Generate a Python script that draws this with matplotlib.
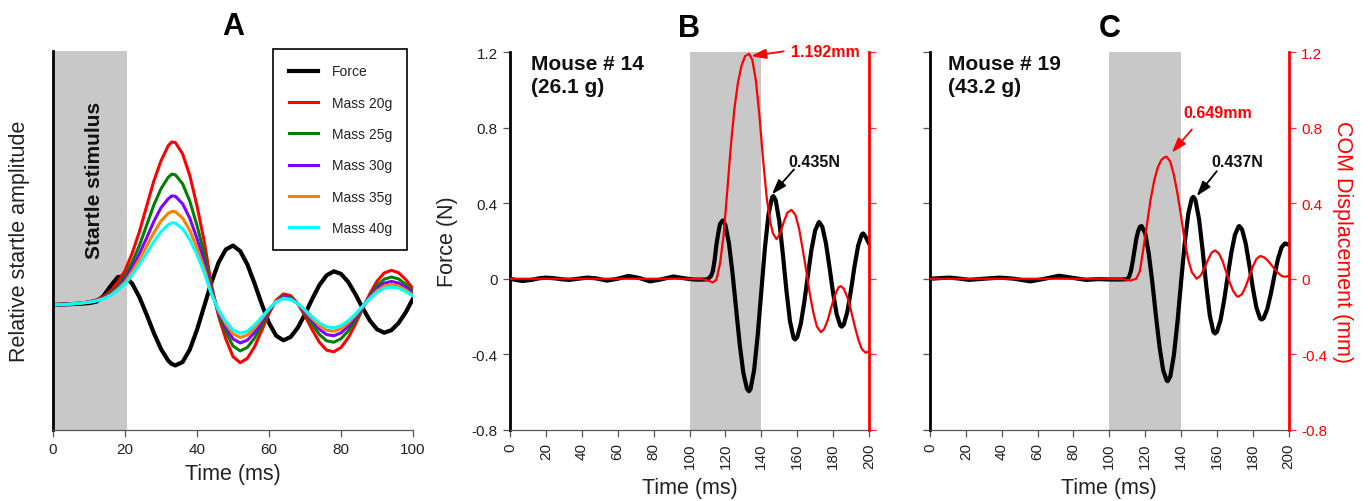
import matplotlib
matplotlib.use("Agg")
import matplotlib.pyplot as plt

plt.rcParams['font.family'] = ['Liberation Sans', 'DejaVu Sans']

# ---------------- Panel A data ----------------
tA = [0, 4, 8, 10, 12, 14, 16, 18, 20, 22, 24, 26, 28, 30, 32, 33, 34, 36, 38, 40,
      42, 44, 46, 48, 50, 52, 54, 56, 58, 60, 62, 64, 66, 68, 70, 72, 74, 76, 78, 80,
      82, 84, 86, 88, 90, 92, 94, 96, 98, 100]
force_A = [-0.01, -0.005, 0.0, 0.005, 0.015, 0.06, 0.14, 0.21, 0.216, 0.158, 0.052, -0.086,
           -0.231, -0.359, -0.451, -0.477, -0.489, -0.462, -0.363, -0.207, -0.02, 0.168,
           0.326, 0.429, 0.46, 0.416, 0.31, 0.159, -0.005, -0.153, -0.254, -0.29, -0.264,
           -0.19, -0.083, 0.037, 0.147, 0.224, 0.256, 0.236, 0.172, 0.075, -0.034, -0.133,
           -0.203, -0.23, -0.21, -0.153, -0.068, 0.04]
mass20 = [-0.01, -0.005, 0.005, 0.015, 0.03, 0.055, 0.10, 0.17, 0.26, 0.40, 0.57, 0.77, 0.97,
          1.13, 1.25, 1.28, 1.275, 1.186, 1.014, 0.774, 0.494, 0.15, -0.10, -0.279, -0.419,
          -0.467, -0.433, -0.34, -0.211, -0.078, 0.027, 0.077, 0.064, 0.001, -0.097, -0.207,
          -0.305, -0.368, -0.381, -0.347, -0.27, -0.163, -0.041, 0.078, 0.178, 0.243, 0.264,
          0.245, 0.19, 0.119]
mass25 = [-0.01, -0.005, 0.005, 0.014, 0.027, 0.048, 0.085, 0.14, 0.215, 0.33, 0.46, 0.62, 0.78,
          0.91, 1.0, 1.025, 1.02, 0.949, 0.811, 0.619, 0.395, 0.12, -0.08, -0.223, -0.335,
          -0.374, -0.346, -0.272, -0.169, -0.062, 0.022, 0.062, 0.051, 0.001, -0.078, -0.166,
          -0.244, -0.294, -0.305, -0.278, -0.216, -0.130, -0.033, 0.062, 0.142, 0.194, 0.211,
          0.196, 0.152, 0.095]
mass30 = [-0.01, -0.005, 0.005, 0.013, 0.025, 0.044, 0.076, 0.125, 0.19, 0.285, 0.395, 0.52, 0.65,
          0.76, 0.83, 0.853, 0.85, 0.791, 0.676, 0.516, 0.329, 0.10, -0.067, -0.186, -0.279,
          -0.311, -0.289, -0.227, -0.141, -0.052, 0.018, 0.051, 0.043, 0.001, -0.065, -0.138,
          -0.203, -0.245, -0.254, -0.231, -0.18, -0.109, -0.027, 0.052, 0.119, 0.162, 0.176,
          0.163, 0.127, 0.079]
mass35 = [-0.01, -0.005, 0.005, 0.012, 0.023, 0.04, 0.07, 0.115, 0.17, 0.255, 0.35, 0.455, 0.56,
          0.655, 0.715, 0.73, 0.728, 0.677, 0.579, 0.442, 0.282, 0.086, -0.057, -0.159, -0.239,
          -0.267, -0.247, -0.194, -0.120, -0.045, 0.015, 0.044, 0.037, 0.001, -0.055, -0.118,
          -0.174, -0.21, -0.218, -0.198, -0.154, -0.093, -0.023, 0.045, 0.102, 0.139, 0.151,
          0.14, 0.108, 0.068]
mass40 = [-0.01, -0.005, 0.005, 0.011, 0.021, 0.037, 0.064, 0.105, 0.155, 0.23, 0.31, 0.40, 0.49,
          0.57, 0.625, 0.64, 0.638, 0.593, 0.507, 0.387, 0.247, 0.075, -0.05, -0.14, -0.21,
          -0.234, -0.217, -0.17, -0.106, -0.039, 0.014, 0.039, 0.032, 0.001, -0.049, -0.104,
          -0.153, -0.184, -0.191, -0.174, -0.135, -0.082, -0.021, 0.039, 0.089, 0.122, 0.132,
          0.123, 0.095, 0.06]
labels_A = ['Force', 'Mass 20g', 'Mass 25g', 'Mass 30g', 'Mass 35g', 'Mass 40g']
colors_A = ['#000000', '#FF0000', '#008000', '#8000FF', '#FF8000', '#00FFFF']

# ---------------- Panel B data (Mouse # 14) ----------------
tB_force = [0, 3, 7, 12, 16, 20, 25, 30, 33, 38, 43, 48, 54, 60, 66, 72, 78, 84, 91, 96, 102, 106,
            110, 111, 112, 113, 114, 115, 116, 117, 118.5, 120, 122, 124, 126, 128, 130, 132,
            133.1, 134, 136, 138, 140, 142, 144, 146, 146.7, 148, 150, 152, 154, 156, 158, 158.8,
            160, 162, 164, 166, 168, 170, 172, 172.3, 174, 176, 178, 180, 182, 184, 184.8, 186,
            188, 190, 192, 194, 196, 196.8, 198, 200]
force_B = [0.0, -0.006, -0.012, -0.006, 0.002, 0.006, 0.002, -0.004, -0.006, 0.0, 0.006, 0.002,
           -0.01, 0.0, 0.015, 0.004, -0.014, -0.004, 0.012, 0.004, -0.004, -0.005, -0.003,
           0.005, 0.015, 0.04, 0.10, 0.18, 0.24, 0.29, 0.309,
           0.285, 0.186, 0.027, -0.163, -0.35, -0.499, -0.583, -0.596,
           -0.585, -0.484, -0.298, -0.069, 0.162, 0.341, 0.431, 0.438,
           0.417, 0.307, 0.131, -0.063, -0.226, -0.314, -0.322,
           -0.310, -0.239, -0.121, 0.021, 0.157, 0.256, 0.299, 0.300,
           0.275, 0.189, 0.061, -0.076, -0.188, -0.248, -0.254,
           -0.242, -0.172, -0.058, 0.070, 0.177, 0.235, 0.240,
           0.225, 0.187]
tB_disp = [0, 20, 40, 60, 80, 100, 108, 111, 113, 115, 117, 119, 121, 123, 125, 127, 129, 131,
           133.2, 135, 137, 139, 141, 143, 145, 146.5, 148.5, 150.5, 152.5, 154.5, 156.8, 159,
           161, 163, 165, 167, 169, 171, 173.2, 175, 177, 179, 181, 183, 184.2, 186, 188, 190,
           192, 194, 196, 198.1, 200]
disp_B = [0, 0, 0, 0, 0, 0, -0.003, -0.012, -0.02, -0.005,
          0.08, 0.23, 0.46, 0.70, 0.90, 1.04, 1.13, 1.18, 1.192,
          1.16, 1.05, 0.86, 0.63, 0.43, 0.30, 0.24, 0.21,
          0.24, 0.30, 0.35, 0.365,
          0.338, 0.268, 0.16, 0.044, -0.079, -0.18, -0.254, -0.283,
          -0.267, -0.22, -0.15, -0.088, -0.046, -0.039,
          -0.053, -0.10, -0.17, -0.249, -0.321, -0.373, -0.392, -0.385]

# ---------------- Panel C data (Mouse # 19) ----------------
tC_force = [0, 5, 11, 17, 22, 30, 39, 47, 56, 64, 72, 80, 87, 94, 100, 106, 109.7,
            111, 112, 113, 114, 115, 116, 117, 118,
            120, 122, 124, 126, 128, 130, 132, 132.5,
            134, 136, 138, 140, 142, 144, 146, 146.8,
            148, 150, 152, 154, 156, 158, 158.9,
            160, 162, 164, 166, 168, 170, 172, 172.5,
            174, 176, 178, 180, 182, 184, 184.9,
            186, 188, 190, 192, 194, 196, 197.9, 200]
force_C = [0.0, 0.003, 0.006, 0.0, -0.006, 0.0, 0.006, 0.0, -0.014, 0.0, 0.016, 0.004, -0.006,
           -0.002, -0.004, -0.004, -0.003,
           0.01, 0.04, 0.09, 0.15, 0.21, 0.25, 0.275, 0.279,
           0.241, 0.132, -0.022, -0.199, -0.362, -0.485, -0.540, -0.543,
           -0.517, -0.404, -0.227, -0.017, 0.186, 0.344, 0.426, 0.434,
           0.417, 0.316, 0.152, -0.035, -0.194, -0.281, -0.29,
           -0.281, -0.219, -0.114, 0.014, 0.137, 0.232, 0.277, 0.279,
           0.261, 0.188, 0.075, -0.049, -0.153, -0.21, -0.216,
           -0.209, -0.162, -0.082, 0.015, 0.104, 0.166, 0.187, 0.18]
tC_disp = [0, 20, 40, 60, 80, 100, 108, 111.6,
           115, 117, 119, 121, 123, 125, 127, 129, 131, 132,
           134, 136, 138, 140, 142, 144, 146, 148.7,
           151, 153, 155, 157, 158.9,
           161, 163, 165, 167, 169, 171, 172,
           174, 176, 178, 180, 182, 184.1,
           186, 188, 190, 192, 194, 196, 197.9, 200]
disp_C = [0, 0, 0, 0, 0, 0, -0.003, -0.01,
          0.0, 0.04, 0.16, 0.29, 0.42, 0.52, 0.59, 0.63, 0.645, 0.646,
          0.62, 0.55, 0.45, 0.33, 0.20, 0.10, 0.035, 0.0,
          0.018, 0.057, 0.10, 0.138, 0.15,
          0.135, 0.097, 0.04, -0.017, -0.064, -0.092, -0.095,
          -0.081, -0.042, 0.011, 0.064, 0.105, 0.12,
          0.115, 0.10, 0.077, 0.053, 0.031, 0.015, 0.01, 0.015]

yticks_BC = [-0.8, -0.4, 0, 0.4, 0.8, 1.2]
ytick_labels_BC = ['-0.8', '-0.4', '0', '0.4', '0.8', '1.2']
xticks_A = [0, 20, 40, 60, 80, 100]
xticks_BC = [0, 20, 40, 60, 80, 100, 120, 140, 160, 180, 200]

TICK_C = '#555555'
LABEL_C = '#222222'
GRAY = '#C8C8C8'

fig = plt.figure(figsize=(13.68, 5.02), dpi=100)


def center_label(lbl):
    lbl.set_horizontalalignment('center')
    lbl.set_verticalalignment('center')


# ================= Panel A =================
axA = fig.add_axes([53 / 1368, 71 / 502, 360 / 1368, 379 / 502])
axA.axvspan(0, 20.6, color=GRAY, lw=0, zorder=0)
lines = []
lines.append(axA.plot(tA, force_A, color=colors_A[0], lw=3.0, label=labels_A[0])[0])
for ys, c, lab in zip([mass20, mass25, mass30, mass35, mass40], colors_A[1:], labels_A[1:]):
    lines.append(axA.plot(tA, ys, color=c, lw=2.2, label=lab)[0])
axA.set_xlim(0, 100)
axA.set_ylim(-1, 2)
axA.set_xticks(xticks_A)
axA.set_yticks([])
for s in ['top', 'right']:
    axA.spines[s].set_visible(False)
axA.spines['left'].set_linewidth(2.0)
axA.spines['left'].set_color('black')
axA.spines['bottom'].set_linewidth(0.9)
axA.spines['bottom'].set_color(TICK_C)
axA.tick_params(axis='x', direction='out', length=5, width=0.9, color=TICK_C,
                labelsize=11, labelcolor=LABEL_C, pad=4)
axA.set_xlabel('Time (ms)', fontsize=15.5, color=LABEL_C)
center_label(axA.xaxis.label)
axA.xaxis.set_label_coords(0.5, -0.116)
axA.set_ylabel('Relative startle amplitude', fontsize=15.5, color=LABEL_C)
center_label(axA.yaxis.label)
axA.yaxis.set_label_coords(-0.092, 0.5)
axA.set_title('A', fontsize=22, fontweight='bold', pad=12)
axA.text(11.5, 0.98, 'Startle stimulus', rotation=90, ha='center', va='center',
         fontsize=15, fontweight='bold', color='#111111')
leg = axA.legend(handles=lines, loc='upper right', bbox_to_anchor=(0.984, 1.005),
                 borderaxespad=0, fontsize=10, handlelength=2.1, handletextpad=1.0,
                 labelspacing=1.25, borderpad=1.1, fancybox=False, framealpha=1,
                 edgecolor='black')
leg.get_frame().set_linewidth(1.2)
for t in leg.get_texts():
    t.set_color(LABEL_C)


def style_bc(ax, title, show_left_labels, show_right_labels, ax2):
    ax.axvspan(100, 140, color=GRAY, lw=0, zorder=0)
    ax.set_xlim(0, 200)
    ax.set_ylim(-0.8, 1.2)
    ax2.set_ylim(-0.8, 1.2)
    ax.set_xticks(xticks_BC)
    ax.set_xticklabels([str(v) for v in xticks_BC], rotation=90)
    ax.set_yticks(yticks_BC)
    ax2.set_yticks(yticks_BC)
    if show_left_labels:
        ax.set_yticklabels(ytick_labels_BC)
    else:
        ax.set_yticklabels([])
    if show_right_labels:
        ax2.set_yticklabels(ytick_labels_BC)
    else:
        ax2.set_yticklabels([])
    for s in ['top', 'right']:
        ax.spines[s].set_visible(False)
    for s in ['top', 'left', 'bottom']:
        ax2.spines[s].set_visible(False)
    ax.spines['left'].set_linewidth(2.0)
    ax.spines['left'].set_color('black')
    ax.spines['bottom'].set_linewidth(0.9)
    ax.spines['bottom'].set_color(TICK_C)
    ax2.spines['right'].set_linewidth(2.0)
    ax2.spines['right'].set_color('#FF0000')
    ax.tick_params(axis='both', direction='out', length=5, width=0.9, color=TICK_C,
                   labelsize=11, labelcolor=LABEL_C, pad=4)
    ax2.tick_params(axis='y', direction='out', length=5, width=0.9, color='#FF3030',
                    labelsize=11, labelcolor='#FF0000', pad=4)
    ax.set_xlabel('Time (ms)', fontsize=15.5, color=LABEL_C)
    center_label(ax.xaxis.label)
    ax.xaxis.set_label_coords(0.5, -0.152)
    ax.set_title(title, fontsize=22, fontweight='bold', pad=12)


ARROW = '-|>,head_length=0.9,head_width=0.3'

# ================= Panel B =================
axB = fig.add_axes([510 / 1368, 71.3 / 502, 359 / 1368, 377.4 / 502])
axB2 = axB.twinx()
axB.plot(tB_force, force_B, color='black', lw=3.0, zorder=3)
axB2.plot(tB_disp, disp_B, color='#FF0000', lw=1.6, zorder=3)
style_bc(axB, 'B', True, False, axB2)
axB.set_ylabel('Force (N)', fontsize=15.5, color=LABEL_C)
center_label(axB.yaxis.label)
axB.yaxis.set_label_coords(-0.173, 0.5)
axB.text(11.5, 1.19, 'Mouse # 14\n(26.1 g)', ha='left', va='top', fontsize=15,
         fontweight='bold', color='#111111', linespacing=1.25)
axB2.annotate('', xy=(134.3, 1.18), xytext=(152.5, 1.205),
              arrowprops=dict(arrowstyle=ARROW, color='#FF0000', lw=1.3,
                              shrinkA=0, shrinkB=0))
axB2.text(156.4, 1.206, '1.192mm', ha='left', va='center', fontsize=11.5,
          fontweight='bold', color='#FF0000')
axB.annotate('', xy=(145.9, 0.447), xytext=(158.2, 0.579),
             arrowprops=dict(arrowstyle=ARROW, color='black', lw=1.3,
                             shrinkA=0, shrinkB=0))
axB.text(155.0, 0.623, '0.435N', ha='left', va='center', fontsize=11.5,
         fontweight='bold', color='#111111')

# ================= Panel C =================
axC = fig.add_axes([930 / 1368, 71.3 / 502, 358.7 / 1368, 377.4 / 502])
axC2 = axC.twinx()
axC.plot(tC_force, force_C, color='black', lw=3.0, zorder=3)
axC2.plot(tC_disp, disp_C, color='#FF0000', lw=1.6, zorder=3)
style_bc(axC, 'C', False, True, axC2)
axC2.set_ylabel('COM Displacement (mm)', fontsize=15.5, color='#FF0000', rotation=270)
center_label(axC2.yaxis.label)
axC2.yaxis.set_label_coords(1.150, 0.5)
axC.text(10.2, 1.19, 'Mouse # 19\n(43.2 g)', ha='left', va='top', fontsize=15,
         fontweight='bold', color='#111111', linespacing=1.25)
axC2.annotate('', xy=(134.8, 0.668), xytext=(146.0, 0.791),
              arrowprops=dict(arrowstyle=ARROW, color='#FF0000', lw=1.3,
                              shrinkA=0, shrinkB=0))
axC2.text(141.2, 0.88, '0.649mm', ha='left', va='center', fontsize=11.5,
          fontweight='bold', color='#FF0000')
axC.annotate('', xy=(148.7, 0.438), xytext=(159.9, 0.570),
             arrowprops=dict(arrowstyle=ARROW, color='black', lw=1.3,
                             shrinkA=0, shrinkB=0))
axC.text(157.1, 0.623, '0.437N', ha='left', va='center', fontsize=11.5,
         fontweight='bold', color='#111111')

fig.savefig('out.png', dpi=100)
